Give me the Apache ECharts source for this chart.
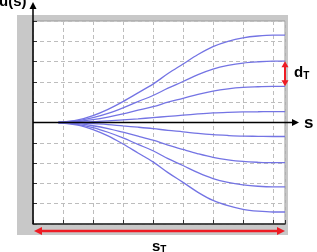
<!DOCTYPE html>
<html><head><meta charset="utf-8">
<script src="https://cdn.jsdelivr.net/npm/echarts@6/dist/echarts.min.js"></script>
<style>html,body{margin:0;padding:0;background:#fff;overflow:hidden}#c{width:317px;height:252px}</style>
</head><body><div id="c"></div>
<script>
// x positions (s) of the sample points
const sValues = [0.85, 1.5, 2, 2.5, 3, 3.5, 4, 4.5, 5, 5.5, 6, 6.5, 7, 7.5, 8, 8.4];
// lateral offset curves u(s)
const curve1 = [0, 0.13, 0.34, 0.65, 1.03, 1.46, 1.89, 2.41, 2.88, 3.35, 3.74, 4.0, 4.17, 4.26, 4.3, 4.3];
const curve2 = [0, 0.09, 0.24, 0.45, 0.72, 1.03, 1.33, 1.69, 2.02, 2.36, 2.63, 2.81, 2.93, 2.99, 3.02, 3.02];
const curve3 = [0, 0.05, 0.14, 0.27, 0.43, 0.61, 0.78, 1.0, 1.19, 1.39, 1.55, 1.66, 1.73, 1.76, 1.78, 1.78];
const curve4 = [0, 0.02, 0.04, 0.08, 0.13, 0.18, 0.24, 0.30, 0.36, 0.42, 0.47, 0.50, 0.52, 0.53, 0.54, 0.54];
const curve5 = [0, -0.02, -0.06, -0.10, -0.17, -0.23, -0.30, -0.39, -0.46, -0.54, -0.60, -0.64, -0.67, -0.68, -0.69, -0.69];
const curve6 = [0, -0.06, -0.16, -0.30, -0.48, -0.67, -0.87, -1.11, -1.33, -1.54, -1.72, -1.84, -1.92, -1.96, -1.98, -1.98];
const curve7 = [0, -0.10, -0.25, -0.48, -0.76, -1.08, -1.39, -1.78, -2.12, -2.47, -2.76, -2.95, -3.07, -3.14, -3.17, -3.17];
const curve8 = [0, -0.13, -0.35, -0.66, -1.06, -1.50, -1.94, -2.47, -2.95, -3.44, -3.84, -4.10, -4.28, -4.37, -4.41, -4.41];
const curves = [curve1, curve2, curve3, curve4, curve5, curve6, curve7, curve8];
// axis ranges
const xMin = 0, xMax = 8.4, xStep = 1;
const yMin = -5, yMax = 5, yStep = 1;
// labels
const labelU = 'u(s)';
const labelS = 's';
const labelD = ['d', 'T'];
const labelST = ['s', 'T'];

const chart = echarts.init(document.getElementById('c'), null, {renderer: 'canvas'});
const G = {left: 33, top: 21, width: 252, height: 203};
const curveColor = '#7474e4';
const red = '#ee1c24';

const series = curves.map(c => ({
  type: 'line',
  data: sValues.map((s, i) => [s, c[i]]),
  showSymbol: false,
  smooth: 0.35,
  lineStyle: {color: curveColor, width: 1.3},
  animation: false,
  silent: true
}));

chart.setOption({
  animation: false,
  grid: {left: G.left, top: G.top, width: G.width, height: G.height, show: false},
  xAxis: {
    type: 'value', min: xMin, max: xMax, interval: xStep,
    axisLine: {onZero: false, lineStyle: {color: '#222', width: 1.5}},
    axisTick: {inside: true, length: 4, lineStyle: {color: '#333'}},
    axisLabel: {show: false},
    splitLine: {show: true, lineStyle: {color: '#bdbdbd', type: [4, 3], width: 1}}
  },
  yAxis: {
    type: 'value', min: yMin, max: yMax, interval: yStep,
    axisLine: {show: false},
    axisTick: {inside: true, length: 4, lineStyle: {color: '#333'}},
    axisLabel: {show: false},
    splitLine: {show: true, lineStyle: {color: '#bdbdbd', type: [4, 3], width: 1}}
  },
  series: series
});

const p = (x, y) => chart.convertToPixel({gridIndex: 0}, [x, y]);
const o = p(0, 0);
const right = p(xMax, 0)[0];
const d1 = p(xMax, curve2[curve2.length - 1]);
const d2 = p(xMax, curve3[curve3.length - 1]);

function arrowHead(x, y, dir, len, half, color) {
  // dir: 'r','l','u','d'
  let pts;
  if (dir === 'r') pts = [[x, y], [x - len, y - half], [x - len, y + half]];
  if (dir === 'l') pts = [[x, y], [x + len, y - half], [x + len, y + half]];
  if (dir === 'u') pts = [[x, y], [x - half, y + len], [x + half, y + len]];
  if (dir === 'd') pts = [[x, y], [x - half, y - len], [x + half, y - len]];
  return {type: 'polygon', shape: {points: pts}, style: {fill: color}, z: 50};
}

const sTy = 231;
const graphics = [
  {type: 'rect', shape: {x: 17, y: 15, width: 271, height: 220}, style: {fill: '#c8c8c8'}, z: -20},
  {type: 'rect', shape: {x: G.left, y: G.top, width: G.width, height: G.height}, style: {fill: '#fff', stroke: '#9a9a9a', lineWidth: 1}, z: -19},
  // x axis at u=0
  {type: 'line', shape: {x1: o[0], y1: o[1], x2: 293, y2: o[1]}, style: {stroke: '#000', lineWidth: 1.5}, z: 40},
  arrowHead(299, o[1], 'r', 7, 3.5, '#000'),
  // y axis
  {type: 'line', shape: {x1: o[0], y1: G.top + G.height, x2: o[0], y2: 8}, style: {stroke: '#000', lineWidth: 1.5}, z: 40},
  arrowHead(o[0], 2, 'u', 7, 3.5, '#000'),
  // s_T arrow
  {type: 'line', shape: {x1: o[0] + 6, y1: sTy, x2: right - 6, y2: sTy}, style: {stroke: red, lineWidth: 2.5}, z: 40},
  arrowHead(o[0] + 1, sTy, 'l', 8, 4, red),
  arrowHead(right, sTy, 'r', 8, 4, red),
  // d_T arrow
  {type: 'line', shape: {x1: d1[0], y1: d1[1] + 5, x2: d2[0], y2: d2[1] - 5}, style: {stroke: red, lineWidth: 2}, z: 40},
  arrowHead(d1[0], d1[1], 'u', 6, 3.5, red),
  arrowHead(d2[0], d2[1], 'd', 6, 3.5, red),
  // labels
  {type: 'text', x: -1, y: 9, style: {text: labelU, fill: '#000', font: 'bold 15px "Liberation Sans", Arial, sans-serif', textAlign: 'left', textVerticalAlign: 'bottom'}, z: 60},
  {type: 'text', x: 304, y: o[1] + 1, style: {text: labelS, fill: '#000', font: 'bold 17px "Liberation Sans", Arial, sans-serif', textAlign: 'left', textVerticalAlign: 'middle'}, z: 60},
  {type: 'text', x: 294, y: 73, style: {
    text: '{a|' + labelD[0] + '}{b|' + labelD[1] + '}', textVerticalAlign: 'middle', textAlign: 'left',
    rich: {a: {fontSize: 15, fontWeight: 'bold', fontFamily: 'Liberation Sans', fill: '#000', color: '#000'},
           b: {fontSize: 10, fontWeight: 'bold', fontFamily: 'Liberation Sans', fill: '#000', color: '#000', padding: [6, 0, 0, 0]}}
  }, z: 60},
  {type: 'text', x: 152, y: 247, style: {
    text: '{a|' + labelST[0] + '}{b|' + labelST[1] + '}', textVerticalAlign: 'middle', textAlign: 'left',
    rich: {a: {fontSize: 15, fontWeight: 'bold', fontFamily: 'Liberation Sans', fill: '#000', color: '#000'},
           b: {fontSize: 10, fontWeight: 'bold', fontFamily: 'Liberation Sans', fill: '#000', color: '#000', padding: [6, 0, 0, 0]}}
  }, z: 60}
];
chart.setOption({graphic: graphics});
</script>
</body></html>
